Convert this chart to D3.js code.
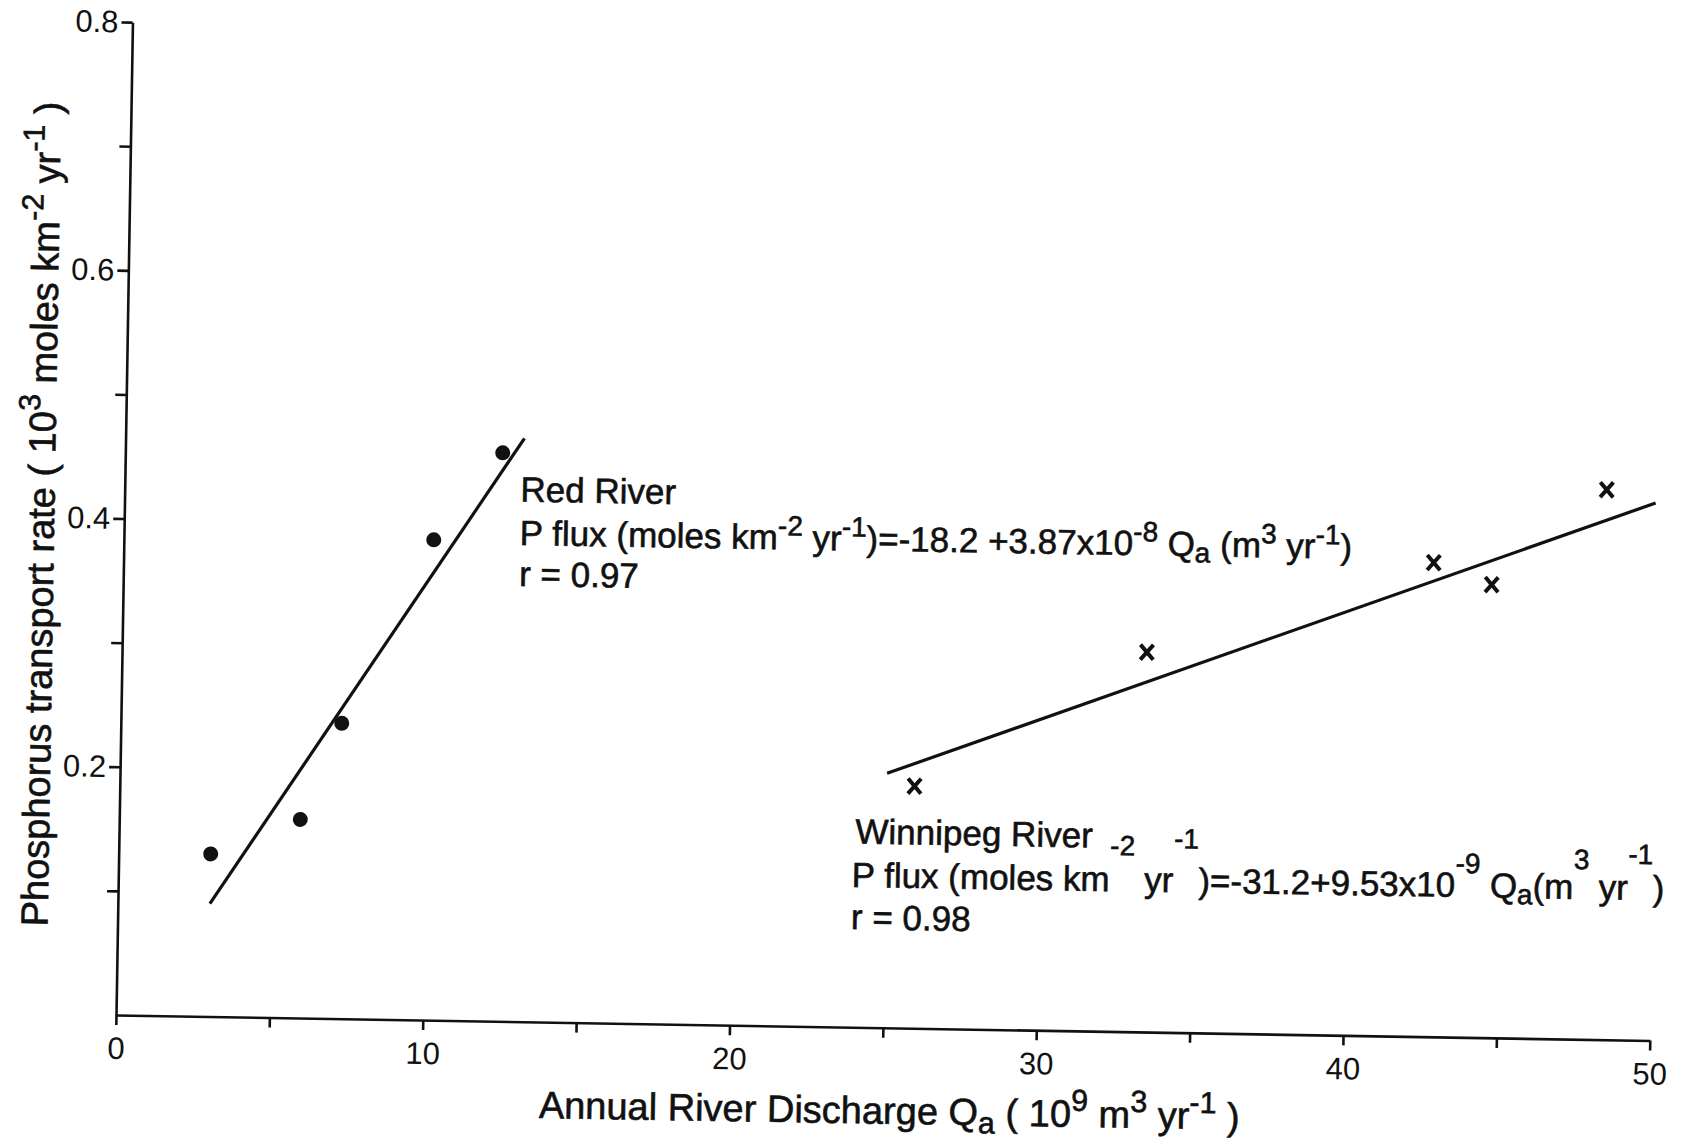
<!DOCTYPE html>
<html>
<head>
<meta charset="utf-8">
<script src="https://cdn.jsdelivr.net/npm/d3@7"></script>
<style>
  body { margin: 0; background: #fff; }
  text { font-family: "Liberation Sans", Arial, sans-serif; fill: #111; }
  text.lbl { stroke: #111; stroke-width: 0.6; }
</style>
</head>
<body>
<svg></svg>
<script>
// axis ticks
let xTicks = [0, 5, 10, 15, 20, 25, 30, 35, 40, 45, 50];
let xTickLabels = [0, 10, 20, 30, 40, 50];
let yTicks = [0.1, 0.2, 0.3, 0.4, 0.5, 0.6, 0.7, 0.8];
let yTickLabels = [0.2, 0.4, 0.6, 0.8];

// Red River (dots)
let redQ = [3.0, 5.9, 7.2, 10.1, 12.3];
let redP = [0.131, 0.160, 0.238, 0.387, 0.458];
let redFitQ = [3.0, 13.0];
let redFitP = [0.091, 0.470];

// Winnipeg River (crosses)
let winQ = [25.9, 33.4, 42.7, 44.6, 48.3];
let winP = [0.195, 0.306, 0.382, 0.365, 0.443];
let winFitQ = [25.0, 49.9];
let winFitP = [0.205, 0.433];

let svgWidth = 1686,
    svgHeight = 1143,
    ox = 116,
    oy = 1015;

let svg = d3.select('svg')
            .attr('width', svgWidth)
            .attr('height', svgHeight)
            .style('background-color', '#fff');

// the scanned figure is tilted by about one degree
let g = svg.append('g')
           .attr('transform', `rotate(0.95, ${ox}, ${oy})`);

let x = d3.scaleLinear().domain([0, 50]).range([ox, ox + 1534]);
let y = d3.scaleLinear().domain([0, 0.8]).range([oy, oy - 993]);

let xAxis = d3.axisBottom(x)
              .tickValues(xTicks)
              .tickSize(10)
              .tickSizeOuter(0)
              .tickPadding(12)
              .tickFormat(d => xTickLabels.includes(d) ? d : '');

let yAxis = d3.axisLeft(y)
              .tickValues(yTicks)
              .tickSize(11)
              .tickSizeOuter(0)
              .tickPadding(3)
              .tickFormat(d => yTickLabels.includes(d) ? d3.format('.1f')(d) : '');

let styleAxis = sel => {
  sel.selectAll('path, line').attr('stroke', '#111').attr('stroke-width', 2.6);
  sel.selectAll('text').attr('font-size', 31).style('font-family', '"Liberation Sans", Arial, sans-serif').attr('fill', '#111');
};

g.append('g').attr('transform', `translate(0,${oy})`).call(xAxis).call(styleAxis);
g.append('g').attr('transform', `translate(${ox},0)`).call(yAxis).call(styleAxis);

// fitted lines
let line = d3.line().x(d => x(d[0])).y(d => y(d[1]));
g.append('path')
 .datum(d3.zip(redFitQ, redFitP))
 .attr('d', line)
 .attr('fill', 'none').attr('stroke', '#111').attr('stroke-width', 3.2);
g.append('path')
 .datum(d3.zip(winFitQ, winFitP))
 .attr('d', line)
 .attr('fill', 'none').attr('stroke', '#111').attr('stroke-width', 3.2);

// points
g.selectAll('circle.red')
 .data(d3.zip(redQ, redP))
 .enter()
 .append('circle')
 .attr('class', 'red')
 .attr('cx', d => x(d[0]))
 .attr('cy', d => y(d[1]))
 .attr('r', 7.5)
 .attr('fill', '#111');

g.selectAll('path.win')
 .data(d3.zip(winQ, winP))
 .enter()
 .append('path')
 .attr('class', 'win')
 .attr('d', 'M-6.5,-7.5L6.5,7.5M6.5,-7.5L-6.5,7.5')
 .attr('transform', d => `translate(${x(d[0])},${y(d[1])})`)
 .attr('stroke', '#111')
 .attr('stroke-width', 4)
 .attr('fill', 'none');

// text with super/subscripts: [text, shift]  shift>0 raises, <0 lowers
function richText(parent, px, py, parts, size, extra) {
  let t = parent.append('text')
                .attr('class', 'lbl')
                .attr('x', px).attr('y', py)
                .attr('font-size', size);
  if (extra) extra(t);
  let cur = 0;
  parts.forEach(p => {
    let shift = p[1] || 0;
    let ts = t.append('tspan').text(p[0]);
    if (shift !== cur) ts.attr('dy', cur - shift);
    if (shift !== 0) ts.attr('font-size', size * 0.8);
    cur = shift;
  });
  return t;
}

let fs = 35;

// Red River labels
richText(g, x(12.9), y(0.419), [['Red River']], fs);
richText(g, x(12.9), y(0.384), [
  ['P flux (moles km'], ['-2', 14], [' yr'], ['-1', 14],
  [')=-18.2 +3.87x10'], ['-8', 14], [' Q'], ['a', -6], [' (m'], ['3', 14], [' yr'], ['-1', 14], [')']
], fs);
richText(g, x(12.9), y(0.351), [['r = 0.97']], fs);

// Winnipeg River labels
richText(g, x(24.0), y(0.148), [['Winnipeg River']], fs);
richText(g, x(23.9), y(0.113), [
  ['P flux (moles km'], ['-2', 36], ['   yr'], ['-1', 44],
  [')=-31.2+9.53x10'], ['-9', 24], [' Q'], ['a', -6], ['(m'], ['3', 30], [' yr'], ['-1', 36], [')']
], fs);
richText(g, x(23.9), y(0.079), [['r = 0.98']], fs);

// axis titles
richText(g, x(25.25), oy + 96, [
  ['Annual River Discharge Q'], ['a', -8], [' ( 10'], ['9', 16], [' m'], ['3', 16], [' yr'], ['-1', 16], [' )']
], 38, t => t.attr('text-anchor', 'middle'));

richText(g, 0, 0, [
  ['Phosphorus transport rate ( 10'], ['3', 16], [' moles km'], ['-2', 16], [' yr'], ['-1', 16], [' )']
], 38, t => t.attr('text-anchor', 'middle')
              .attr('transform', `translate(${ox - 70},${y(0.4026)}) rotate(-90)`));
</script>
</body>
</html>
